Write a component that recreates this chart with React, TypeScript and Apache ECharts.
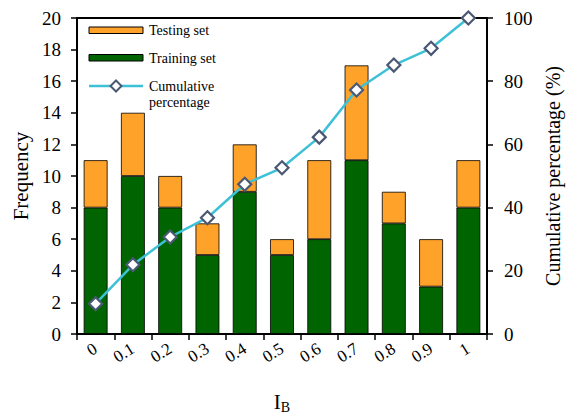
import React, { useEffect, useRef } from "react";
import * as echarts from "echarts";

const categories = ["0", "0.1", "0.2", "0.3", "0.4", "0.5", "0.6", "0.7", "0.8", "0.9", "1"];
const trainingSet = [8, 10, 8, 5, 9, 5, 6, 11, 7, 3, 8];
const testingSet = [3, 4, 2, 2, 3, 1, 5, 6, 2, 3, 3];
const cumulativePct = [9.6, 21.9, 30.7, 36.8, 47.4, 52.6, 62.3, 77.2, 85.1, 90.4, 100];

const FONT = "'Liberation Serif', 'Times New Roman', serif";
const ORANGE = "#FFA229";
const GREEN = "#006400";
const CYAN = "#3EC1D6";
const MARK = "#4B5874";

export default function App() {
  const ref = useRef<HTMLDivElement>(null);
  useEffect(() => {
    if (!ref.current) return;
    const chart = echarts.init(ref.current, null, { renderer: "svg" });
    const legendText = { fontFamily: FONT, fontSize: 14, fill: "#000" };
    chart.setOption({
      animation: false,
      backgroundColor: "#fff",
      textStyle: { fontFamily: FONT, color: "#000" },
      grid: {
        left: 77,
        right: 80,
        top: 18,
        bottom: 80,
        containLabel: false,
        outerBoundsMode: "none",
        show: true,
        borderColor: "#000",
        borderWidth: 2,
        backgroundColor: "transparent",
      },
      xAxis: {
        type: "category",
        data: categories,
        boundaryGap: true,
        axisLine: { show: true, lineStyle: { color: "#000", width: 2 } },
        axisTick: { show: true, length: 6, lineStyle: { color: "#000", width: 1.5 } },
        axisLabel: { rotate: 32, fontSize: 17, color: "#000", fontFamily: FONT, margin: 13 },
        name: "{i|I}{s|B}",
        nameLocation: "middle",
        nameGap: 56,
        nameTextStyle: {
          rich: {
            i: { fontFamily: FONT, fontSize: 21, color: "#000" },
            s: { fontFamily: FONT, fontSize: 14, color: "#000", verticalAlign: "bottom", padding: [10, 0, 0, 0] },
          },
        },
      },
      yAxis: [
        {
          type: "value",
          min: 0,
          max: 20,
          interval: 2,
          splitLine: { show: false },
          axisLine: { show: true, lineStyle: { color: "#000", width: 2 } },
          axisTick: { show: true, length: 6, lineStyle: { color: "#000", width: 1.5 } },
          axisLabel: { fontSize: 19, color: "#000", fontFamily: FONT, margin: 16 },
          name: "Frequency",
          nameLocation: "middle",
          nameGap: 44,
          nameTextStyle: { fontSize: 21, fontFamily: FONT, color: "#000" },
        },
        {
          type: "value",
          min: 0,
          max: 100,
          interval: 20,
          position: "right",
          splitLine: { show: false },
          axisLine: { show: true, lineStyle: { color: "#000", width: 2 } },
          axisTick: { show: true, length: 6, lineStyle: { color: "#000", width: 1.5 } },
          axisLabel: { fontSize: 19, color: "#000", fontFamily: FONT, margin: 17 },
          name: "Cumulative percentage (%)",
          nameLocation: "middle",
          nameGap: 56,
          nameTextStyle: { fontSize: 20, fontFamily: FONT, color: "#000" },
        },
      ],
      series: [
        {
          name: "Training set",
          type: "bar",
          stack: "f",
          data: trainingSet,
          barWidth: "64%",
          itemStyle: { color: GREEN, borderColor: "#000", borderWidth: 0.8 },
        },
        {
          name: "Testing set",
          type: "bar",
          stack: "f",
          data: testingSet,
          barWidth: "64%",
          itemStyle: { color: ORANGE, borderColor: "#000", borderWidth: 0.8 },
        },
        {
          name: "Cumulative percentage",
          type: "line",
          yAxisIndex: 1,
          data: cumulativePct,
          symbol: "diamond",
          symbolSize: 13,
          lineStyle: { color: CYAN, width: 2.5 },
          itemStyle: { color: "#fff", borderColor: MARK, borderWidth: 2.2 },
          z: 5,
        },
      ],
      graphic: [
        { type: "rect", shape: { x: 89, y: 27, width: 54, height: 6.5 }, style: { fill: ORANGE, stroke: "#000", lineWidth: 1 } },
        { type: "text", x: 149, y: 30, style: { ...legendText, text: "Testing set", verticalAlign: "middle" } },
        { type: "rect", shape: { x: 89, y: 54.5, width: 54, height: 6.5 }, style: { fill: GREEN, stroke: "#000", lineWidth: 1 } },
        { type: "text", x: 149, y: 58, style: { ...legendText, text: "Training set", verticalAlign: "middle" } },
        { type: "line", shape: { x1: 89, y1: 86, x2: 143, y2: 86 }, style: { stroke: CYAN, lineWidth: 2.5 } },
        {
          type: "polygon",
          shape: { points: [[116, 80.5], [121.5, 86], [116, 91.5], [110.5, 86]] },
          style: { fill: "#fff", stroke: MARK, lineWidth: 2 },
        },
        { type: "text", x: 149, y: 86, style: { ...legendText, text: "Cumulative", verticalAlign: "middle" } },
        { type: "text", x: 149, y: 102, style: { ...legendText, text: "percentage", verticalAlign: "middle" } },
      ],
    });
    return () => chart.dispose();
  }, []);
  return <div ref={ref} style={{ position: "fixed", left: 0, top: 0, width: 567, height: 414 }} />;
}
